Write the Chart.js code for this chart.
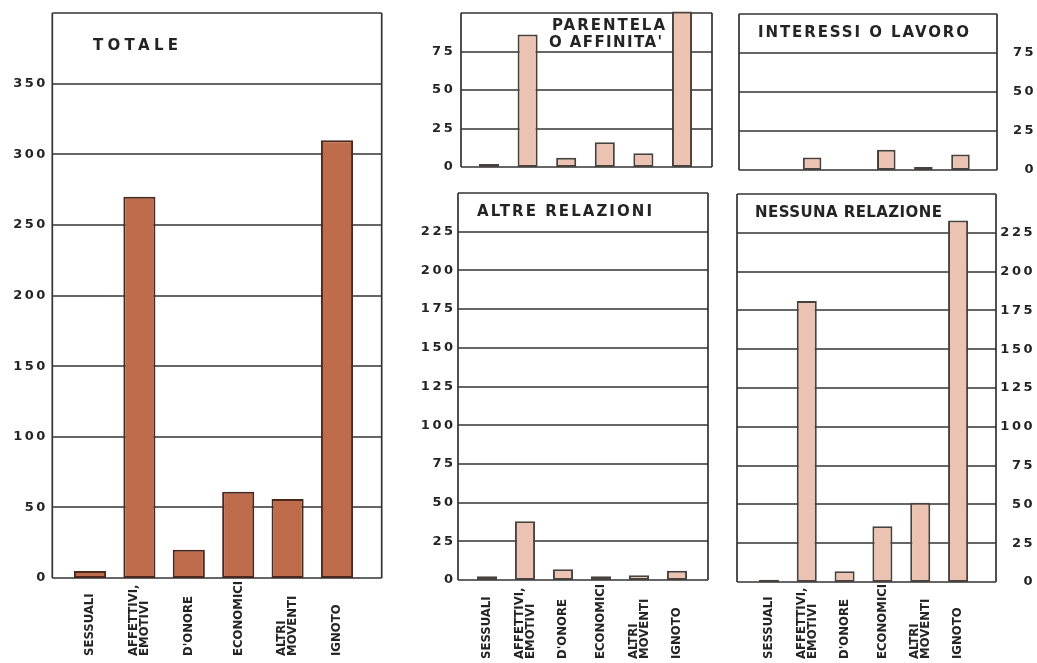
<!DOCTYPE html>
<html>
<head>
<meta charset="utf-8">
<script src="https://cdn.jsdelivr.net/npm/chart.js@4.4.1/dist/chart.umd.min.js"></script>
<style>
  html, body { margin: 0; padding: 0; background: #fff; }
  #wrap { position: relative; width: 1037px; height: 663px; overflow: hidden; background: #fff; }
  canvas { position: absolute; }
</style>
</head>
<body>
<div id="wrap">
  <canvas id="cTot" width="400" height="663" style="left:0;top:0"></canvas>
  <canvas id="cPar" width="330" height="185" style="left:400px;top:0"></canvas>
  <canvas id="cInt" width="317" height="185" style="left:720px;top:0"></canvas>
  <canvas id="cAlt" width="330" height="478" style="left:400px;top:185px"></canvas>
  <canvas id="cNes" width="317" height="478" style="left:720px;top:185px"></canvas>
</div>
<script>
// moventi (categorie)
const categories = ['SESSUALI', ['AFFETTIVI,', 'EMOTIVI'], "D'ONORE", 'ECONOMICI', ['ALTRI', 'MOVENTI'], 'IGNOTO'];

// valori
const totale = [5, 270, 20, 61, 56, 310];
const parentela = [2, 86, 6, 16, 9, 101];
const interessi = [0, 8, 0, 13, 2, 10];
const altreRelazioni = [2.5, 38, 7, 2.5, 3, 6];
const nessunaRelazione = [1.5, 181, 7, 36, 51, 233];

// scale
const totaleMax = 400, totaleStep = 50;
const smallMax = 100, smallStep = 25;
const bigMax = 250, bigStep = 25;

const INK = '#242424';
const LINE = '#333';
const LABEL_FONT = 'bold 13px "Liberation Sans Narrow", "DejaVu Sans Condensed", "Arial Narrow", sans-serif';

function panel(id, values, o) {
  const frame = {
    id: 'frame',
    beforeDraw(chart) {
      chart.ctx.letterSpacing = '2.5px'; // y tick labels are widely spaced
    },
    beforeDatasetsDraw(chart) {
      const ctx = chart.ctx, a = chart.chartArea, y = chart.scales.y;
      ctx.letterSpacing = '0px';
      const l = a.left - o.ext[0], r = a.right + o.ext[1];
      ctx.save();
      ctx.strokeStyle = LINE;
      ctx.lineWidth = 1.7;
      y.ticks.forEach(t => {
        const py = Math.round(y.getPixelForValue(t.value));
        ctx.beginPath();
        ctx.moveTo(l, py);
        ctx.lineTo(r, py);
        ctx.stroke();
      });
      ctx.beginPath();
      ctx.moveTo(l, a.top); ctx.lineTo(l, a.bottom);
      ctx.moveTo(r, a.top); ctx.lineTo(r, a.bottom);
      ctx.stroke();

      ctx.fillStyle = INK;
      ctx.font = 'bold 15px "DejaVu Sans"';
      ctx.textBaseline = 'middle';
      ctx.textAlign = 'left';
      o.title.forEach(t => {
        ctx.letterSpacing = '0px';
        const w = ctx.measureText(t.text).width;
        ctx.letterSpacing = Math.max(0, (t.w - w) / (t.text.length - 1)) + 'px';
        ctx.fillText(t.text, t.x, t.y);
      });
      ctx.restore();
    },
    afterDraw(chart) {
      // category labels read bottom-up and start from a common baseline
      if (!o.labelsAt) return;
      const ctx = chart.ctx, x = chart.scales.x;
      ctx.save();
      ctx.letterSpacing = '0px';
      ctx.fillStyle = INK;
      ctx.font = LABEL_FONT;
      ctx.textAlign = 'left';
      ctx.textBaseline = 'middle';
      chart.data.labels.forEach((lab, i) => {
        const lines = [].concat(lab);
        const px = x.getPixelForValue(i);
        lines.forEach((t, k) => {
          ctx.save();
          ctx.translate(px + (k - (lines.length - 1) / 2) * 11, o.labelsAt);
          ctx.rotate(-Math.PI / 2);
          ctx.fillText(t, 0, 0);
          ctx.restore();
        });
      });
      ctx.restore();
    }
  };

  return new Chart(document.getElementById(id), {
    type: 'bar',
    data: {
      labels: categories,
      datasets: [{
        data: values,
        backgroundColor: o.fill,
        borderColor: o.border,
        borderWidth: 2,
        borderSkipped: false,
        barPercentage: o.bar,
        categoryPercentage: 1,
        clip: false
      }]
    },
    options: {
      responsive: false,
      animation: false,
      layout: { padding: o.pad },
      plugins: {
        legend: { display: false },
        tooltip: { enabled: false }
      },
      scales: {
        x: { display: false },
        y: {
          position: o.side,
          min: 0,
          max: o.max,
          grid: { display: false, drawTicks: false },
          border: { display: false },
          ticks: {
            z: -1,
            stepSize: o.step,
            padding: o.tp || 0,
            crossAlign: o.side === 'right' ? 'far' : 'near',
            color: INK,
            font: { family: '"DejaVu Sans"', size: 13, weight: 'bold' },
            callback: v => (v >= o.max ? '' : v)
          },
          afterFit: s => { s.width = o.yw; s.paddingTop = 0; s.paddingBottom = 0; }
        }
      }
    },
    plugins: [frame]
  });
}

const BROWN = '#bf6c4c', BROWN_EDGE = '#4a281d';
const PINK = '#ecc3b3', PINK_EDGE = '#48423e';

panel('cTot', totale, {
  pad: { left: 0, right: 38.3, top: 13, bottom: 85 },
  yw: 65.3, side: 'left', tp: 17.5, labelsAt: 656,
  max: totaleMax, step: totaleStep, ext: [13, 20], bar: 0.65,
  fill: BROWN, border: BROWN_EDGE,
  title: [{ text: 'TOTALE', x: 93, y: 46, w: 85 }]
});

panel('cPar', parentela, {
  pad: { left: 0, right: 28.7, top: 13, bottom: 18 },
  yw: 69.7, side: 'left', tp: 14.5,
  max: smallMax, step: smallStep, ext: [8.7, 10.7], bar: 0.52,
  fill: PINK, border: PINK_EDGE,
  title: [
    { text: 'PARENTELA', x: 152, y: 26, w: 113 },
    { text: "O AFFINITA'", x: 149, y: 43, w: 113 }
  ]
});

panel('cInt', interessi, {
  pad: { left: 36.5, right: 1, top: 14, bottom: 15 },
  yw: 57, side: 'right',
  max: smallMax, step: smallStep, ext: [17.5, 18], bar: 0.5,
  fill: PINK, border: PINK_EDGE,
  title: [{ text: 'INTERESSI O LAVORO', x: 38, y: 33, w: 211 }]
});

panel('cAlt', altreRelazioni, {
  pad: { left: 0, right: 34, top: 8, bottom: 83 },
  yw: 68, side: 'left', tp: 12.5, labelsAt: 474,
  max: bigMax, step: bigStep, ext: [10, 12], bar: 0.53,
  fill: PINK, border: PINK_EDGE,
  title: [{ text: 'ALTRE RELAZIONI', x: 77, y: 27.5, w: 175 }]
});

panel('cNes', nessunaRelazione, {
  pad: { left: 30, right: 2, top: 9, bottom: 81 },
  yw: 58, side: 'right', labelsAt: 474,
  max: bigMax, step: bigStep, ext: [13, 19], bar: 0.53,
  fill: PINK, border: PINK_EDGE,
  title: [{ text: 'NESSUNA RELAZIONE', x: 35, y: 28.5, w: 187 }]
});
</script>
</body>
</html>
